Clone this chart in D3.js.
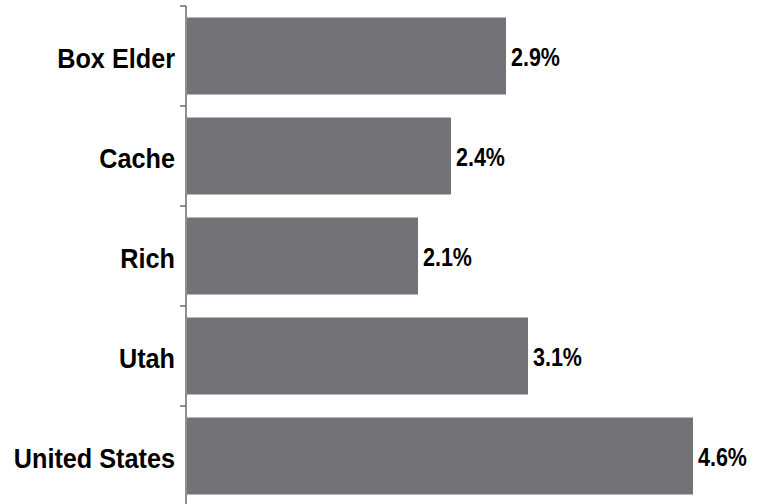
<!DOCTYPE html>
<html>
<head>
<meta charset="utf-8">
<script src="https://cdn.jsdelivr.net/npm/d3@7"></script>
<style>
html,body{margin:0;padding:0;background:#fff;}
svg{display:block;}
</style>
</head>
<body>
<svg id="chart" width="765" height="504"></svg>
<script>
const categories = ["Box Elder", "Cache", "Rich", "Utah", "United States"];
const values = [2.9, 2.4, 2.1, 3.1, 4.6];
const valueLabels = ["2.9%", "2.4%", "2.1%", "3.1%", "4.6%"];

const svg = d3.select("#chart");
const x0 = 186;
const x = d3.scaleLinear().domain([0, 4.6]).range([x0 + 1, 693]);
const y = d3.scaleBand().domain(categories).range([6, 506]).paddingInner(0.23).paddingOuter(0.115);

// bars
svg.selectAll("rect.bar").data(categories).enter().append("rect")
  .attr("class", "bar")
  .attr("x", x(0))
  .attr("y", d => y(d))
  .attr("width", (d, i) => x(values[i]) - x(0))
  .attr("height", y.bandwidth())
  .attr("fill", "#737377");

// axis line
svg.append("line").attr("x1", x0).attr("x2", x0).attr("y1", 6).attr("y2", 504)
  .attr("stroke", "#555").attr("stroke-width", 1.3);

// ticks at band boundaries
svg.selectAll("line.tick").data(categories).enter().append("line")
  .attr("class", "tick")
  .attr("x1", x0 - 6).attr("x2", x0)
  .attr("y1", d => y(d) - y.step() * 0.115)
  .attr("y2", d => y(d) - y.step() * 0.115)
  .attr("stroke", "#555").attr("stroke-width", 1.3);

// category labels
svg.selectAll("g.cat").data(categories).enter().append("g")
  .attr("class", "cat")
  .attr("transform", d => `translate(175,${y(d) + y.bandwidth() / 2 + 11.5}) scale(0.935,1)`)
  .append("text")
  .attr("text-anchor", "end")
  .attr("font-family", "Liberation Sans, Arial, sans-serif")
  .attr("font-weight", "bold")
  .attr("font-size", "27px")
  .attr("fill", "#000")
  .text(d => d);

// value labels
svg.selectAll("g.val").data(categories).enter().append("g")
  .attr("class", "val")
  .attr("transform", (d, i) => `translate(${x(values[i]) + 5},${y(d) + y.bandwidth() / 2 + 10})  scale(0.86,1)`)
  .append("text")
  .attr("font-family", "Liberation Sans, Arial, sans-serif")
  .attr("font-weight", "bold")
  .attr("font-size", "25px")
  .attr("fill", "#000")
  .text((d, i) => valueLabels[i]);
</script>
</body>
</html>
